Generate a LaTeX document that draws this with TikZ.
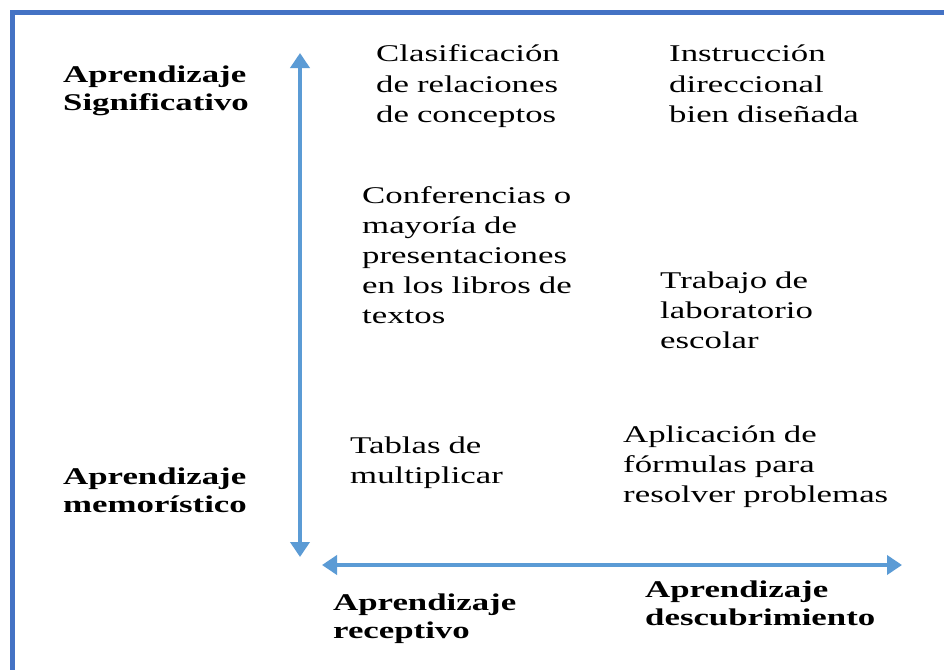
\documentclass[tikz,border=0pt]{standalone}
\usepackage{fontspec}
\setmainfont{Liberation Serif}[FakeStretch=1.45]
\usetikzlibrary{arrows.meta}
\definecolor{frameblue}{HTML}{4472C4}
\definecolor{arrowblue}{HTML}{5B9BD5}
\begin{document}
\begin{tikzpicture}[x=1pt,y=-1pt,
  txt/.style={anchor=base west, inner sep=0pt, text width=320pt, align=left, font=\fontsize{24}{30}\selectfont},
  lbl/.style={anchor=base west, inner sep=0pt, text width=320pt, align=left, font=\fontsize{24}{28}\selectfont\bfseries},
  axis/.style={arrowblue, line width=4pt, {Triangle[width=19pt,length=15pt]}-{Triangle[width=19pt,length=15pt]}}]
\useasboundingbox (0,0) rectangle (944,669);
\clip (0,0) rectangle (944,669);
\fill[white] (0,0) rectangle (944,669);
% frame
\coordinate (fbl) at (12.5,700);
\coordinate (ftl) at (12.5,12.5);
\coordinate (ftr) at (960,12.5);
\draw[frameblue, line width=5pt] (fbl) -- (ftl) -- (ftr);
% axes
\coordinate (vtop) at (300,53);
\coordinate (vbot) at (300,557);
\coordinate (hl) at (322,565);
\coordinate (hr) at (902,565);
\draw[axis] (vbot) -- (vtop);
\draw[axis] (hl) -- (hr);
% axis labels
\node[lbl] (sig) at (63,82) {Aprendizaje\\Significativo};
\node[lbl] (mem) at (63,484) {Aprendizaje\\memorístico};
\node[lbl] (rec) at (333,610) {Aprendizaje\\receptivo};
\node[lbl] (des) at (645,597) {Aprendizaje\\descubrimiento};
% quadrant texts
\node[txt] (cla) at (376,62) {Clasificación\\de relaciones\\de conceptos};
\node[txt] (ins) at (669,62) {Instrucción\\direccional\\bien diseñada};
\node[txt] (con) at (362,203) {Conferencias o\\mayoría de\\presentaciones\\en los libros de\\textos};
\node[txt] (tra) at (660,288) {Trabajo de\\laboratorio\\escolar};
\node[txt] (tab) at (350,453) {Tablas de\\multiplicar};
\node[txt] (apl) at (623,442) {Aplicación de\\fórmulas para\\resolver problemas};
\end{tikzpicture}
\end{document}
